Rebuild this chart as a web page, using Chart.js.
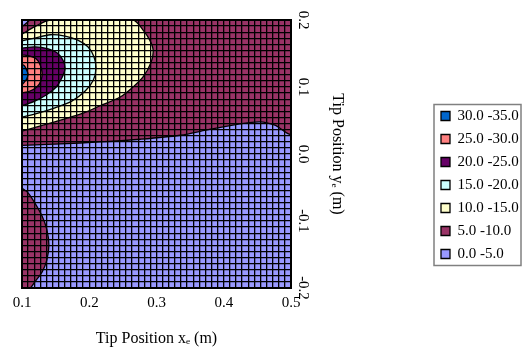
<!DOCTYPE html>
<html><head><meta charset="utf-8">
<script src="https://cdn.jsdelivr.net/npm/chart.js@4.4.1/dist/chart.umd.min.js"></script>
<style>html,body{margin:0;padding:0;background:#fff}</style>
</head><body>
<canvas id="c" width="523" height="352"></canvas>
<script>
// ---- data ----
const levelLabels = ['30.0 -35.0','25.0 -30.0','20.0 -25.0','15.0 -20.0','10.0 -15.0','5.0 -10.0','0.0 -5.0'];
const xTicks = [0.1, 0.2, 0.3, 0.4, 0.5];
const yTicks = [-0.2, -0.1, 0.0, 0.1, 0.2];
const gridCells = 44;

// contour region outlines [x, y] (m)
const band30 = [[0.1,0.134],[0.104,0.131],[0.107,0.125],[0.109,0.119],[0.107,0.112],[0.104,0.108],[0.1,0.103]];
const band25 = [[0.1,0.148],[0.112,0.146],[0.121,0.142],[0.127,0.133],[0.130,0.121],[0.128,0.109],[0.122,0.100],[0.112,0.094],[0.1,0.091]];
const band20 = [[0.1,0.158],[0.119,0.160],[0.139,0.157],[0.152,0.151],[0.161,0.140],[0.164,0.127],[0.159,0.113],[0.151,0.100],[0.136,0.088],[0.119,0.079],[0.1,0.072]];
const band15 = [[0.1,0.169],[0.119,0.173],[0.142,0.178],[0.164,0.176],[0.183,0.170],[0.198,0.160],[0.207,0.145],[0.210,0.128],[0.206,0.110],[0.194,0.094],[0.174,0.079],[0.149,0.069],[0.124,0.061],[0.1,0.055]];
const band10 = [[0.1,0.179],[0.119,0.190],[0.142,0.2],[0.265,0.2],[0.280,0.185],[0.290,0.170],[0.295,0.155],[0.292,0.137],[0.280,0.115],[0.264,0.099],[0.246,0.085],[0.216,0.072],[0.191,0.061],[0.142,0.046],[0.1,0.034]];
const band5Top = [[0.1,0.2],[0.5,0.2],[0.5,0.031],[0.476,0.043],[0.454,0.048],[0.424,0.045],[0.380,0.037],[0.335,0.028],[0.276,0.022],[0.216,0.018],[0.157,0.015],[0.1,0.013]];
const band5Lobe = [[0.1,-0.051],[0.109,-0.058],[0.119,-0.073],[0.130,-0.093],[0.137,-0.113],[0.140,-0.136],[0.137,-0.158],[0.130,-0.176],[0.119,-0.191],[0.112,-0.2],[0.1,-0.2]];
const band0Corner = [[0.1,0.2],[0.111,0.2],[0.1,0.190]];
const band0 = [[0.1,0.2],[0.5,0.2],[0.5,-0.2],[0.1,-0.2]];

// ---- styles ----
const levelColors = ['#0066CC','#FF8080','#660066','#CCFFFF','#FFFFCC','#993366','#9999FF'];
const FONT = "'Liberation Serif', 'Times New Roman', serif";

const regions = [
  {pts: band30, lvl: 0, legend: true},
  {pts: band25, lvl: 1, legend: true},
  {pts: band20, lvl: 2, legend: true},
  {pts: band15, lvl: 3, legend: true},
  {pts: band10, lvl: 4, legend: true},
  {pts: band0Corner, lvl: 6, legend: false},
  {pts: band5Top, lvl: 5, legend: true},
  {pts: band5Lobe, lvl: 5, legend: false},
  {pts: band0, lvl: 6, legend: true, straight: true}
];

const datasets = regions.map(r => ({
  label: r.legend ? levelLabels[r.lvl] : '',
  data: r.pts.map(([x, y]) => ({x, y})),
  backgroundColor: levelColors[r.lvl],
  borderColor: '#000',
  borderWidth: 1.3,
  fill: 'shape',
  pointRadius: 0,
  tension: r.straight ? 0 : 0.3
}));

const legendFrame = {
  id: 'legendFrame',
  afterDraw(chart) {
    const lg = chart.legend;
    const hb = lg.legendHitBoxes;
    if (!hb || !hb.length) return;
    const top = hb[0].top - 4;
    const last = hb[hb.length - 1];
    const bottom = last.top + last.height + 4;
    const ctx = chart.ctx;
    ctx.save();
    ctx.strokeStyle = '#808080';
    ctx.lineWidth = 1.5;
    ctx.strokeRect(lg.left + 1, top, lg.right - lg.left - 3, bottom - top);
    ctx.restore();
  }
};

const cellTicks = s => { s.ticks = Array.from({length: gridCells + 1}, (_, i) => ({value: i})); };

new Chart(document.getElementById('c'), {
  type: 'line',
  data: {datasets},
  plugins: [legendFrame],
  options: {
    responsive: false,
    devicePixelRatio: 1,
    animation: false,
    layout: {padding: {left: 22, top: 20, right: 0, bottom: 0}},
    plugins: {
      tooltip: {enabled: false},
      legend: {
        position: 'right',
        align: 'start',
        maxWidth: 90,
        title: {display: true, text: ' ', font: {size: 10}, padding: {top: 68.5, bottom: 0}},
        labels: {
          boxWidth: 9, boxHeight: 9, padding: 8, color: '#000',
          font: {family: FONT, size: 15},
          filter: item => item.text !== ''
        }
      }
    },
    scales: {
      x: {
        type: 'linear', position: 'bottom', min: 0.1, max: 0.5,
        afterBuildTicks: s => { s.ticks = xTicks.map(v => ({value: v})); },
        afterFit: s => { s.height = 64; },
        grid: {display: false, drawTicks: false},
        border: {display: true, color: '#000', width: 2, z: 1},
        ticks: {padding: 6, color: '#000', autoSkip: false, maxRotation: 0, font: {family: FONT, size: 15}, callback: v => Number(v).toFixed(1)},
        title: {display: true, text: 'Tip Position xₑ (m)', color: '#000', font: {family: FONT, size: 16}, padding: {top: 0, bottom: 4}}
      },
      y: {
        type: 'linear', position: 'right', min: -0.2, max: 0.2,
        afterBuildTicks: s => { s.ticks = yTicks.map(v => ({value: v})); },
        afterFit: s => { s.width = 142; },
        grid: {display: false, drawTicks: false},
        border: {display: true, color: '#000', width: 2, z: 1},
        ticks: {padding: 0, crossAlign: 'center', minRotation: -90, maxRotation: -90, color: '#000', autoSkip: false, font: {family: FONT, size: 15}, callback: v => Number(v).toFixed(1)},
        title: {display: true, text: 'Tip Position yₑ (m)', color: '#000', font: {family: FONT, size: 16}, padding: {top: 86, bottom: 0}}
      },
      xg: {
        axis: 'x', type: 'linear', position: 'top', min: 0, max: gridCells,
        afterBuildTicks: cellTicks,
        afterFit: s => { s.height = 0; },
        ticks: {display: false},
        grid: {color: '#000', lineWidth: 1.3, drawTicks: false, z: 1},
        border: {display: true, color: '#000', width: 2, z: 1}
      },
      yg: {
        axis: 'y', type: 'linear', position: 'left', min: 0, max: gridCells,
        afterBuildTicks: cellTicks,
        afterFit: s => { s.width = 0; },
        ticks: {display: false},
        grid: {color: '#000', lineWidth: 1.3, drawTicks: false, z: 1},
        border: {display: true, color: '#000', width: 2, z: 1}
      }
    }
  }
});
</script>
</body></html>
